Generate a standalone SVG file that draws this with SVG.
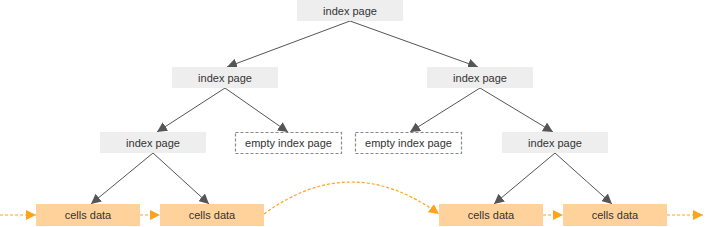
<svg xmlns="http://www.w3.org/2000/svg" width="706" height="227" viewBox="0 0 706 227">
<defs>
<style>
.idx{fill:#EEEEEE;stroke:none}
.emp{fill:#FFFFFF;stroke:#888888;stroke-width:1.2;stroke-dasharray:3 2}
.cell{fill:#FFD29C;stroke:none}
.t{font-family:"Liberation Sans",Arial,sans-serif;font-size:11px;fill:#333333;text-anchor:middle;dominant-baseline:central}
.ln{stroke:#555555;stroke-width:1;fill:none;marker-end:url(#ga)}
.ol{stroke:#FFA31A;stroke-width:1.2;fill:none;stroke-dasharray:3 2;marker-end:url(#oa)}
</style>
<marker id="ga" viewBox="0 0 10 10" refX="10" refY="5" markerWidth="10" markerHeight="10" markerUnits="userSpaceOnUse" orient="auto">
<path d="M0,0 L10,5 L0,10 z" fill="#555555"/>
</marker>
<marker id="oa" viewBox="0 0 10 10" refX="10" refY="5" markerWidth="10" markerHeight="10" markerUnits="userSpaceOnUse" orient="auto">
<path d="M0,0 L10,5 L0,10 z" fill="#FFA31A"/>
</marker>
</defs>
<g id="connectors">
<line class="ln" x1="350" y1="21" x2="227" y2="67"/>
<line class="ln" x1="350" y1="21" x2="478" y2="67"/>
<line class="ln" x1="225" y1="88" x2="157" y2="132"/>
<line class="ln" x1="225" y1="88" x2="288" y2="132"/>
<line class="ln" x1="480" y1="88" x2="410" y2="132"/>
<line class="ln" x1="480" y1="88" x2="553" y2="132"/>
<line class="ln" x1="153" y1="153" x2="91" y2="204"/>
<line class="ln" x1="153" y1="153" x2="209" y2="204"/>
<line class="ln" x1="555" y1="153" x2="494" y2="204"/>
<line class="ln" x1="555" y1="153" x2="612" y2="204"/>
<line class="ol" x1="0" y1="215" x2="36" y2="215"/>
<line class="ol" x1="140" y1="215" x2="160" y2="215"/>
<path class="ol" d="M264,214 Q351,150 439,214"/>
<line class="ol" x1="543" y1="215" x2="563" y2="215"/>
<line class="ol" x1="667" y1="215" x2="703" y2="215"/>
</g>
<g id="root"><rect class="idx" x="297" y="0" width="106" height="21"/><text class="t" x="350" y="11">index page</text></g>
<g id="l2a"><rect class="idx" x="172" y="67" width="106" height="21"/><text class="t" x="225" y="78">index page</text></g>
<g id="l2b"><rect class="idx" x="427" y="67" width="106" height="21"/><text class="t" x="480" y="78">index page</text></g>
<g id="l3a"><rect class="idx" x="100" y="132" width="106" height="21"/><text class="t" x="153" y="143">index page</text></g>
<g id="l3b"><rect class="emp" x="235.5" y="132.5" width="106" height="21"/><text class="t" x="288.5" y="143">empty index page</text></g>
<g id="l3c"><rect class="emp" x="355.5" y="132.5" width="106" height="21"/><text class="t" x="408.5" y="143">empty index page</text></g>
<g id="l3d"><rect class="idx" x="502" y="132" width="106" height="21"/><text class="t" x="555" y="143">index page</text></g>
<g id="c1"><rect class="cell" x="36" y="204" width="104" height="22"/><text class="t" x="88" y="215">cells data</text></g>
<g id="c2"><rect class="cell" x="160" y="204" width="104" height="22"/><text class="t" x="212" y="215">cells data</text></g>
<g id="c3"><rect class="cell" x="439" y="204" width="104" height="22"/><text class="t" x="491" y="215">cells data</text></g>
<g id="c4"><rect class="cell" x="563" y="204" width="104" height="22"/><text class="t" x="615" y="215">cells data</text></g>
</svg>
